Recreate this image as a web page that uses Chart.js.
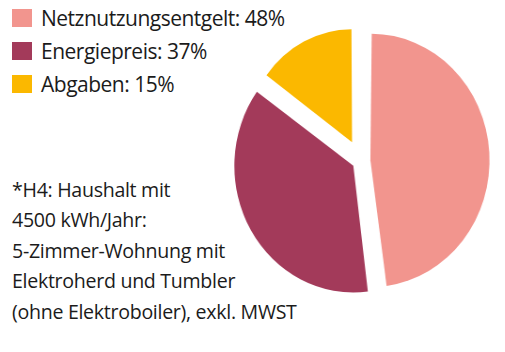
<!DOCTYPE html>
<html lang="de">
<head>
    <meta charset="UTF-8">
    <title>Strompreis H4</title>
    <script src="https://cdn.jsdelivr.net/npm/chart.js"></script>
    <style>
        body {
            margin: 0;
            width: 505px;
            height: 352px;
            background: #fff;
            overflow: hidden;
            position: relative;
            font-family: "Open Sans", sans-serif;
            color: #1b1b1b;
        }
        #legend { position: absolute; left: 12px; top: 1px; }
        .item { display: flex; align-items: center; height: 33px; font-size: 21px; letter-spacing: -0.5px; white-space: nowrap; }
        .swatch { width: 20px; height: 18px; margin-right: 9px; flex: none; }
        #note { position: absolute; left: 12px; top: 175px; font-size: 19.6px; line-height: 30.4px; letter-spacing: -0.3px; white-space: nowrap; }
        /* pie is a bit narrower than tall in the original */
        #pieBox { position: absolute; left: 211px; top: 11px; width: 300px; height: 300px; transform: scaleX(0.94); transform-origin: 50% 50%; }
    </style>
</head>
<body>
    <div id="legend"></div>
    <div id="note"></div>
    <div id="pieBox"><canvas id="pie" width="300" height="300"></canvas></div>

    <script>
        const labels = ['Netznutzungsentgelt', 'Energiepreis', 'Abgaben'];
        const shares = [48, 37, 15];
        const colors = ['#F2958E', '#A33A5A', '#FBB800'];
        const noteLines = [
            '*H4: Haushalt mit',
            '4500 kWh/Jahr:',
            '5-Zimmer-Wohnung mit',
            'Elektroherd und Tumbler',
            '(ohne Elektroboiler), exkl. MWST'
        ];

        // explode distance (Chart.js moves a slice by offset / 4) and outer radius per slice
        const sliceOffset = [40, 38, 84];
        const sliceRadius = [118, 124, 109];

        document.getElementById('legend').innerHTML = labels.map((l, i) => `
            <div class="item"><span class="swatch" style="background:${colors[i]}"></span>${l}: ${shares[i]}%</div>
        `).join('');
        document.getElementById('note').innerHTML = noteLines.join('<br>');

        const sliceRadiusPlugin = {
            id: 'sliceRadius',
            afterDatasetUpdate(chart, args) {
                args.meta.data.forEach((arc, i) => { arc.outerRadius = sliceRadius[i]; });
            }
        };

        new Chart(document.getElementById('pie'), {
            type: 'pie',
            data: {
                labels: labels,
                datasets: [{
                    data: shares,
                    backgroundColor: colors,
                    borderWidth: 0,
                    offset: sliceOffset
                }]
            },
            options: {
                responsive: false,
                animation: false,
                events: [],
                layout: { padding: 0 },
                plugins: {
                    legend: { display: false },
                    tooltip: { enabled: false }
                }
            },
            plugins: [sliceRadiusPlugin]
        });
    </script>
</body>
</html>
